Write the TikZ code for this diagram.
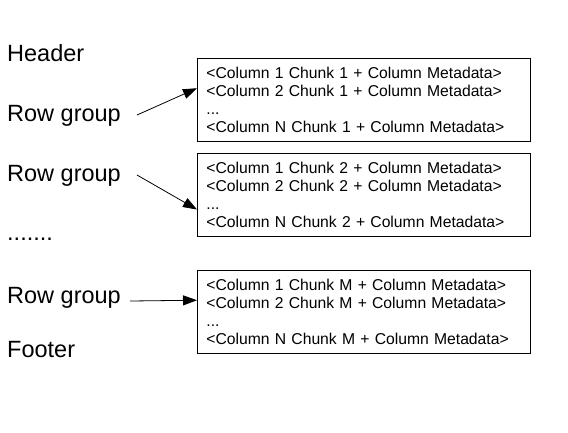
\documentclass[tikz,border=0pt]{standalone}
\usepackage{fontspec}
\setmainfont{Liberation Sans}
\usetikzlibrary{arrows.meta}

\tikzset{
  lbl/.style={anchor=base west, inner sep=0pt, font=\fontsize{23.5}{26}\selectfont},
  chunkbox/.style={draw, line width=0.8pt, anchor=north west, minimum height=83pt,
    text width=315pt, inner xsep=9pt, inner ysep=0pt, align=left,
    font=\fontsize{15.7}{18}\selectfont},
  toarr/.style={-{Triangle[length=14pt,width=10pt]}, line width=0.8pt}
}

\begin{document}
\begin{tikzpicture}[x=1pt,y=-1pt]
			\useasboundingbox (0,0) rectangle (568,432);
			\node[lbl] (hdr) at (7,61.7) {Header};
			\node[lbl] (rg1) at (7,121.7) {Row group};
			\node[lbl] (rg2) at (7,181.7) {Row group};
			\node[lbl] (dots) at (7,240) {.......};
			\node[lbl] (rg3) at (7,303) {Row group};
			\node[lbl] (ftr) at (7,357) {Footer};
			\node[chunkbox] (box1) at (197,58) {<Column 1 Chunk 1 + Column Metadata>\\<Column 2 Chunk 1 + Column Metadata>\\...\\<Column N Chunk 1 + Column Metadata>};
			\node[chunkbox] (box2) at (197,153) {<Column 1 Chunk 2 + Column Metadata>\\<Column 2 Chunk 2 + Column Metadata>\\...\\<Column N Chunk 2 + Column Metadata>};
			\node[chunkbox] (box3) at (197,270) {<Column 1 Chunk M + Column Metadata>\\<Column 2 Chunk M + Column Metadata>\\...\\<Column N Chunk M + Column Metadata>};
			\coordinate (s1) at (137,115);
			\coordinate (s2) at (137,175);
			\coordinate (s3) at (130,301);
			\draw[toarr] (s1) -- (box1.176);
			\draw[toarr] (s2) -- (box2.185);
			\draw[toarr] (s3) -- (box3.176);
		\end{tikzpicture}
\end{document}
